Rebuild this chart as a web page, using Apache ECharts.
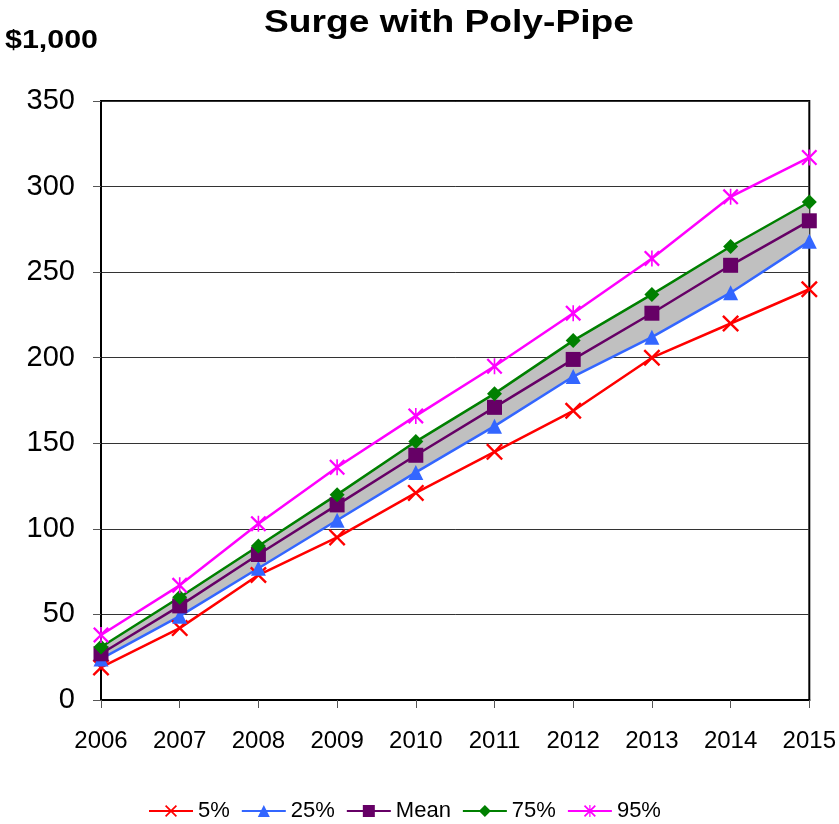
<!DOCTYPE html>
<html>
<head>
<meta charset="utf-8">
<script src="https://cdn.jsdelivr.net/npm/echarts@6/dist/echarts.min.js"></script>
<style>
  html, body { margin: 0; padding: 0; background: #fff; }
  #chart { width: 839px; height: 824px; }
</style>
</head>
<body>
<div id="chart"></div>
<script>
// values, in $1,000
var years = ['2006', '2007', '2008', '2009', '2010', '2011', '2012', '2013', '2014', '2015'];
var p5 = [19, 42, 73, 95, 121, 145, 169, 200, 220, 240];
var p25 = [24, 49, 77, 105, 133, 160, 189, 212, 238, 268];
var mean = [27, 55, 85, 114, 143, 171, 199, 226, 254, 280];
var p75 = [31, 60, 90, 120, 151, 179, 210, 237, 265, 291];
var p95 = [38, 67, 103, 136, 166, 195, 226, 258, 294, 317];

var font = 'Liberation Sans, Arial, sans-serif';

// filled cross and asterisk shapes
var crossPath = 'path://M0,2 L2,0 L10,8 L18,0 L20,2 L12,10 L20,18 L18,20 L10,12 L2,20 L0,18 L8,10 Z';
var starPath = crossPath + ' M9,0 L11,0 L11,20 L9,20 Z';

// grey band between 25% and 75%
var bandBase = p25.slice();
var bandHeight = p75.map(function (v, i) { return v - p25[i]; });

function lineSeries(name, data, color, symbol, size) {
  return {
    name: name,
    type: 'line',
    data: data,
    z: 5,
    symbol: symbol,
    symbolSize: size,
    showSymbol: true,
    lineStyle: { color: color, width: 2.5 },
    itemStyle: { color: color },
    emphasis: { disabled: true }
  };
}

var chart = echarts.init(document.getElementById('chart'));
chart.setOption({
  animation: false,
  // the original picture is a little stretched sideways, so the headings are too
  graphic: [
    {
      type: 'text', x: 449, y: 23, scaleX: 1.2,
      style: {
        text: 'Surge with Poly-Pipe', fill: '#000',
        font: 'bold 31px ' + font, align: 'center', verticalAlign: 'middle'
      }
    },
    {
      type: 'text', x: 5, y: 41, scaleX: 1.17,
      style: {
        text: '$1,000', fill: '#000',
        font: 'bold 26px ' + font, align: 'left', verticalAlign: 'middle'
      }
    }
  ],
  grid: {
    left: 101, right: 29, top: 101, bottom: 124,
    show: true, borderColor: '#000', borderWidth: 2
  },
  legend: {
    bottom: 2,
    left: 148,
    padding: 0,
    itemWidth: 44,
    itemHeight: 15,
    itemGap: 11,
    data: ['5%', '25%', 'Mean', '75%', '95%'],
    textStyle: { fontFamily: font, fontSize: 22, color: '#000' }
  },
  xAxis: {
    type: 'category',
    data: years,
    boundaryGap: false,
    axisLine: { lineStyle: { color: '#000', width: 2 } },
    axisTick: { show: true, length: 8, lineStyle: { color: '#555', width: 1 } },
    axisLabel: { fontFamily: font, fontSize: 24, color: '#000', margin: 29 }
  },
  yAxis: {
    type: 'value',
    min: 0, max: 350, interval: 50,
    axisLine: { show: true, lineStyle: { color: '#000', width: 2 } },
    axisTick: { show: true, length: 8, lineStyle: { color: '#555', width: 1 } },
    axisLabel: { fontFamily: font, fontSize: 29, color: '#000', margin: 26 },
    splitLine: { lineStyle: { color: '#333', width: 1 } }
  },
  series: [
    {
      name: 'base', type: 'line', stack: 'band', data: bandBase,
      symbol: 'none', z: 1, silent: true,
      lineStyle: { opacity: 0 }
    },
    {
      name: 'band', type: 'line', stack: 'band', data: bandHeight,
      symbol: 'none', z: 1, silent: true,
      lineStyle: { opacity: 0 },
      areaStyle: { color: '#c0c0c0', opacity: 1 }
    },
    lineSeries('5%', p5, '#ff0000', crossPath, 17),
    lineSeries('25%', p25, '#3366ff', 'triangle', 15),
    lineSeries('Mean', mean, '#660066', 'rect', 15),
    lineSeries('75%', p75, '#008000', 'diamond', 15),
    lineSeries('95%', p95, '#ff00ff', starPath, 16)
  ]
});
</script>
</body>
</html>
